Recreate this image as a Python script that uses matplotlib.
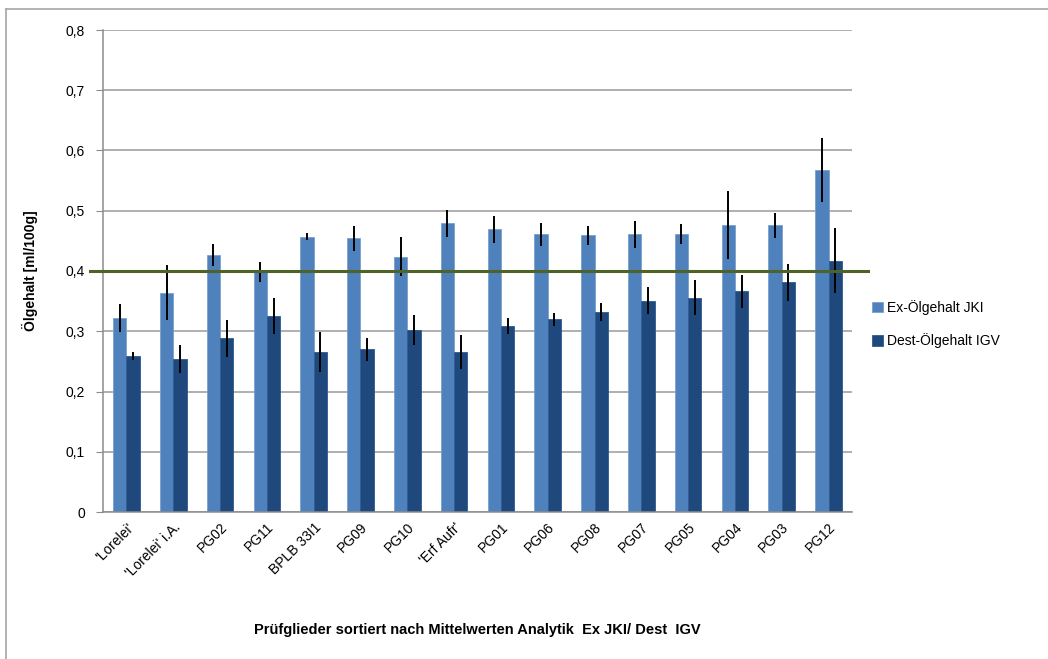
import numpy as np
import matplotlib.pyplot as plt
from matplotlib.lines import Line2D
from matplotlib.ticker import FuncFormatter

plt.rcParams['font.family'] = ['Liberation Sans', 'DejaVu Sans']

# Data
sorten = ["'Lorelei'", "'Lorelei' i.A.", "PG02", "PG11", "BPLB 33I1", "PG09", "PG10",
          "'Erf Aufr'", "PG01", "PG06", "PG08", "PG07", "PG05", "PG04", "PG03", "PG12"]
ex_jki = [0.322, 0.364, 0.427, 0.398, 0.457, 0.454, 0.424, 0.479,
          0.469, 0.461, 0.459, 0.461, 0.461, 0.476, 0.476, 0.567]
ex_err = [0.024, 0.046, 0.018, 0.017, 0.006, 0.020, 0.033, 0.022,
          0.022, 0.019, 0.016, 0.022, 0.017, 0.056, 0.021, 0.053]
dest_igv = [0.259, 0.254, 0.288, 0.325, 0.266, 0.270, 0.302, 0.266,
            0.309, 0.320, 0.332, 0.351, 0.356, 0.366, 0.381, 0.417]
dest_err = [0.006, 0.023, 0.030, 0.030, 0.033, 0.019, 0.025, 0.028,
            0.013, 0.011, 0.015, 0.022, 0.029, 0.028, 0.031, 0.054]
grenzwert = 0.4

fig = plt.figure(figsize=(10.48, 6.59), dpi=100)
ax = fig.add_axes([103/1048, 1-512/659, 749/1048, 482/659])

x = np.arange(len(sorten))
w = 0.285
ax.bar(x - w/2, ex_jki, w, color='#4F81BD', edgecolor='#7BA0CD', linewidth=0.6,
       label='Ex-Ölgehalt JKI', zorder=2)
ax.bar(x + w/2, dest_igv, w, color='#1F497D', edgecolor='#2C5A91', linewidth=0.6,
       label='Dest-Ölgehalt IGV', zorder=2)
ax.errorbar(x - w/2, ex_jki, yerr=ex_err, fmt='none', ecolor='black', elinewidth=1.4,
            capsize=0, zorder=3)
ax.errorbar(x + w/2, dest_igv, yerr=dest_err, fmt='none', ecolor='black', elinewidth=1.4,
            capsize=0, zorder=3)

# threshold line, runs a bit past the plot area
ax.axhline(grenzwert, xmin=-0.017, xmax=1.021, color='#4F6228', lw=2.2,
           clip_on=False, zorder=4)

ax.set_xlim(-0.5, len(sorten) - 0.5)
ax.set_ylim(0, 0.8)
ax.set_yticks(np.arange(0, 0.81, 0.1))
ax.yaxis.set_major_formatter(FuncFormatter(lambda v, p: '0' if v == 0 else f'{v:.1f}'.replace('.', ',')))
ax.yaxis.grid(True, color='#9A9A9A', lw=1.1, zorder=0)
ax.set_axisbelow(True)
for s in ['top', 'right']:
    ax.spines[s].set_visible(False)
ax.spines['left'].set_color('#8C8C8C')
ax.spines['bottom'].set_color('#8C8C8C')
ax.spines['left'].set_linewidth(1.1)
ax.spines['bottom'].set_linewidth(1.1)
ax.tick_params(axis='y', length=5, color='#8C8C8C', labelsize=10, pad=8)
ax.tick_params(axis='x', length=0, pad=6)

ax.set_xticks(x)
ax.set_xticklabels(sorten, rotation=45, ha='right', rotation_mode='anchor', fontsize=10)

ax.set_ylabel('Ölgehalt [ml/100g]', fontsize=10, fontweight='bold', labelpad=20)
ax.set_xlabel('Prüfglieder sortiert nach Mittelwerten Analytik  Ex JKI/ Dest  IGV',
              fontsize=10.5, fontweight='bold', labelpad=31)

ax.legend(loc='center left', bbox_to_anchor=(1.01, 0.39), frameon=False, fontsize=10,
          handlelength=0.8, handleheight=0.8, handletextpad=0.3, labelspacing=1.3)

# chart frame: only the left and top edges are inside the picture
fx, fy = 6/1048, 1 - 9/659
fig.add_artist(Line2D([fx, fx], [0, fy], transform=fig.transFigure, color='#A6A6A6', lw=1.2))
fig.add_artist(Line2D([fx, 1], [fy, fy], transform=fig.transFigure, color='#A6A6A6', lw=1.2))

fig.savefig('out.png', dpi=100)
